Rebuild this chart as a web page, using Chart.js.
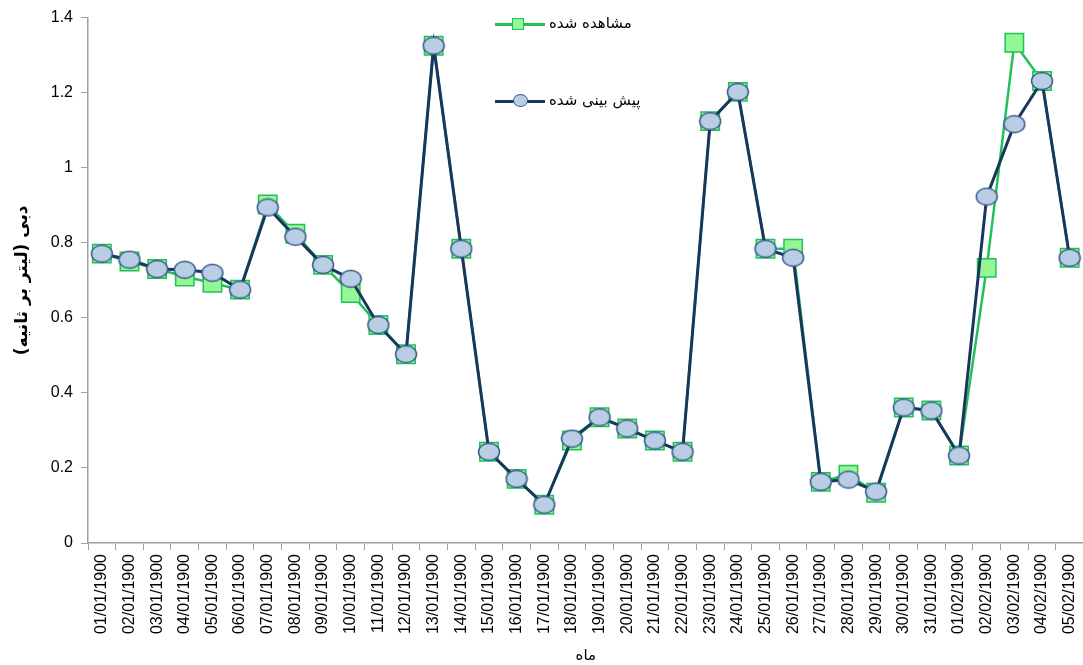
<!DOCTYPE html>
<html>
<head>
<meta charset="utf-8">
<script src="https://cdn.jsdelivr.net/npm/chart.js@4"></script>
<style>
  html, body { margin: 0; background: #fff; overflow: hidden; }
  #wrap { position: relative; width: 1083px; height: 665px; overflow: hidden; }
  #chart { display: block; }
  .lg { position: absolute; left: 495px; height: 20px; font: 15px "DejaVu Sans", sans-serif; color: #000; }
  .lg .ln { position: absolute; left: 0; top: 9px; width: 50px; height: 3px; }
  .lg .mk { position: absolute; box-sizing: border-box; }
  .lg .tx { position: absolute; left: 54px; top: 0; white-space: nowrap; direction: rtl; unicode-bidi: embed; }
</style>
</head>
<body>
<div id="wrap">
  <canvas id="chart" width="1098" height="665"></canvas>
  <div class="lg" style="top:14px">
    <div class="ln" style="background:#22c05a"></div>
    <div class="mk" style="left:17px;top:4px;width:12px;height:12px;background:#94f694;border:1.5px solid #22c05a"></div>
    <span class="tx">مشاهده شده</span>
  </div>
  <div class="lg" style="top:91px">
    <div class="ln" style="background:#17375e"></div>
    <div class="mk" style="left:18px;top:3px;width:15px;height:13px;border-radius:50%;background:#b9cde5;border:1.5px solid #385d8a"></div>
    <span class="tx">پیش بینی شده</span>
  </div>
</div>
<script>
const dates = ['01/01/1900','02/01/1900','03/01/1900','04/01/1900','05/01/1900','06/01/1900',
  '07/01/1900','08/01/1900','09/01/1900','10/01/1900','11/01/1900','12/01/1900','13/01/1900',
  '14/01/1900','15/01/1900','16/01/1900','17/01/1900','18/01/1900','19/01/1900','20/01/1900',
  '21/01/1900','22/01/1900','23/01/1900','24/01/1900','25/01/1900','26/01/1900','27/01/1900',
  '28/01/1900','29/01/1900','30/01/1900','31/01/1900','01/02/1900','02/02/1900','03/02/1900',
  '04/02/1900','05/02/1900'];

// observed flow (l/s)
const observed = [0.771, 0.750, 0.730, 0.710, 0.693, 0.675, 0.902, 0.824, 0.741, 0.666,
  0.581, 0.503, 1.325, 0.784, 0.243, 0.171, 0.102, 0.273, 0.335, 0.305, 0.273, 0.243,
  1.124, 1.202, 0.784, 0.784, 0.163, 0.182, 0.134, 0.361, 0.353, 0.233, 0.733, 1.333,
  1.231, 0.760];

// predicted flow (l/s)
const predicted = [0.771, 0.755, 0.730, 0.728, 0.720, 0.675, 0.894, 0.816, 0.741, 0.704,
  0.581, 0.503, 1.325, 0.784, 0.243, 0.171, 0.102, 0.278, 0.335, 0.305, 0.273, 0.243,
  1.124, 1.202, 0.784, 0.760, 0.163, 0.169, 0.137, 0.361, 0.353, 0.233, 0.923, 1.116,
  1.231, 0.760];

const yTicks = [0, 0.2, 0.4, 0.6, 0.8, 1, 1.2, 1.4];

// ellipse marker like the excel one
function ellipseMarker() {
  const c = document.createElement('canvas');
  c.width = 24; c.height = 20;
  const g = c.getContext('2d');
  g.beginPath();
  g.ellipse(12, 10, 10.5, 8.5, 0, 0, Math.PI * 2);
  g.fillStyle = '#b9cde5';
  g.fill();
  g.lineWidth = 1.5;
  g.strokeStyle = '#385d8a';
  g.stroke();
  return c;
}

const axisFont = { family: 'Liberation Sans, Arial, sans-serif', size: 16 };

new Chart(document.getElementById('chart'), {
  type: 'line',
  data: {
    labels: dates,
    datasets: [
      {
        label: 'پیش بینی شده',
        data: predicted,
        borderColor: '#17375e',
        borderWidth: 3,
        pointStyle: ellipseMarker(),
        tension: 0,
        order: 0
      },
      {
        label: 'مشاهده شده',
        data: observed,
        borderColor: '#22c05a',
        borderWidth: 2.5,
        pointStyle: 'rect',
        pointRadius: 13,
        pointBackgroundColor: '#94f694',
        pointBorderColor: '#22c05a',
        pointBorderWidth: 1.5,
        tension: 0,
        order: 1
      }
    ]
  },
  options: {
    responsive: false,
    animation: false,
    layout: { padding: { top: 13, right: 0, left: 0, bottom: 0 } },
    plugins: { legend: { display: false }, tooltip: { enabled: false } },
    scales: {
      x: {
        offset: true,
        grid: { display: true, drawOnChartArea: false, drawTicks: true, tickLength: 7, color: '#a0a0a0', offset: true },
        border: { color: '#a0a0a0', width: 1.5 },
        ticks: { color: '#000', font: axisFont, minRotation: 90, maxRotation: 90, autoSkip: false, padding: 4 },
        title: { display: true, text: 'ماه', color: '#000', font: { family: 'DejaVu Sans, sans-serif', size: 15 }, padding: { top: 6, bottom: 0 } },
        afterFit: s => { s.height = 122; }
      },
      y: {
        min: 0,
        max: 1.4,
        afterBuildTicks: s => { s.ticks = yTicks.map(v => ({ value: v })); },
        grid: { display: true, drawOnChartArea: false, drawTicks: true, tickLength: 7, color: '#a0a0a0' },
        border: { color: '#a0a0a0', width: 1.5 },
        ticks: { color: '#000', font: axisFont, padding: 8, callback: v => String(v) },
        title: { display: true, text: 'دبی (لیتر بر ثانیه)', color: '#000', font: { family: 'DejaVu Sans, sans-serif', size: 17, weight: 'bold' }, padding: { top: 12, bottom: 0 } },
        afterFit: s => { s.width = 88; }
      }
    }
  }
});
</script>
</body>
</html>
